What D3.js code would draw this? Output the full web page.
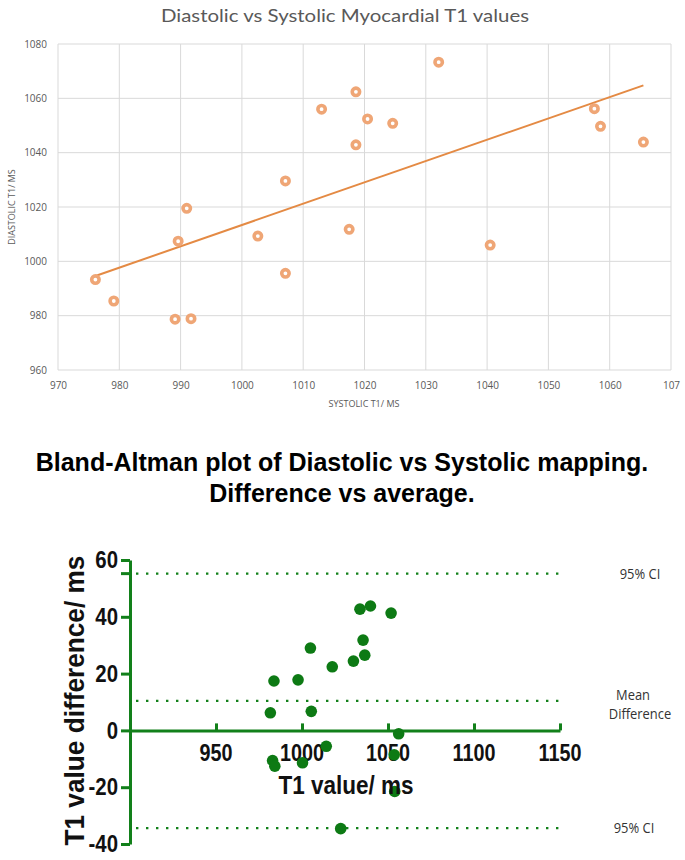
<!DOCTYPE html>
<html>
<head>
<meta charset="utf-8">
<script src="https://cdn.jsdelivr.net/npm/d3@7"></script>
<style>
  html, body { margin: 0; padding: 0; background: #fff; }
  svg { display: block; }
</style>
</head>
<body>
<svg id="chart" width="685" height="860"></svg>
<script>
// ---------- Top chart data: Diastolic vs Systolic myocardial T1 ----------
const systolicT1 = [991.0, 1032.1, 1018.6, 1013.0, 1020.5, 1024.6, 1018.6, 1007.1, 1017.5, 1057.5,
                    1058.5, 1065.5, 989.6, 976.1, 979.1, 989.1, 991.7, 1002.6, 1007.1, 1040.5];
const diastolicT1 = [1019.5, 1073.3, 1062.4, 1056.0, 1052.4, 1050.8, 1042.9, 1029.6, 1011.8, 1056.2,
                     1049.7, 1043.9, 1007.4, 993.3, 985.4, 978.7, 978.9, 1009.3, 995.6, 1006.0];
const topXTicks = [970, 980, 990, 1000, 1010, 1020, 1030, 1040, 1050, 1060, 1070];
const topXTickLabels = ["970", "980", "990", "1000", "1010", "1020", "1030", "1040", "1050", "1060", "107"];
const topYTicks = [960, 980, 1000, 1020, 1040, 1060, 1080];

// ---------- Bottom chart data: Bland-Altman ----------
const baAverage = [983.7, 997.7, 1004.9, 1017.6, 1029.9, 1036.5, 1035.5, 1033.7, 1039.8, 1051.8,
                   981.6, 1005.4, 1056.2, 1014.1, 982.9, 984.2, 1000.3, 1053.6, 1053.9, 1022.5];
const baDifference = [17.4, 17.8, 29.0, 22.4, 24.4, 26.5, 31.8, 42.7, 43.8, 41.3,
                      6.2, 6.7, -1.2, -5.6, -10.6, -12.6, -11.4, -8.6, -21.5, -34.6];
const baLines = [55.2, 10.4, -34.4];       // upper 95% CI, mean difference, lower 95% CI
const baXTicks = [950, 1000, 1050, 1100, 1150];
const baYTicks = [-40, -20, 0, 20, 40, 60];

const svg = d3.select("#chart");

// condense helper (emulates a narrow typeface)
function condense(sel, factor) {
  sel.each(function () {
    const w = this.getComputedTextLength();
    d3.select(this).attr("textLength", w * factor).attr("lengthAdjust", "spacingAndGlyphs");
  });
}

// =================== TOP CHART ===================
const tx = d3.scaleLinear().domain([970, 1070]).range([58, 671]);
const ty = d3.scaleLinear().domain([960, 1080]).range([370, 44]);
const gridColor = "#d9d9d9";
const textGray = "#595959";
const topFont = "'Open Sans', 'Noto Sans', sans-serif";

svg.append("text")
  .attr("x", 345).attr("y", 22)
  .attr("text-anchor", "middle")
  .attr("font-family", "Lato, 'Open Sans', sans-serif")
  .attr("font-size", 18)
  .attr("fill", textGray)
  .attr("textLength", 368).attr("lengthAdjust", "spacingAndGlyphs")
  .text("Diastolic vs Systolic Myocardial T1 values");

const topG = svg.append("g");
topG.selectAll(".vg").data(topXTicks).enter().append("line")
  .attr("x1", d => tx(d)).attr("x2", d => tx(d))
  .attr("y1", ty(960)).attr("y2", ty(1080))
  .attr("stroke", gridColor).attr("stroke-width", 1);
topG.selectAll(".hg").data(topYTicks).enter().append("line")
  .attr("x1", tx(970)).attr("x2", tx(1070))
  .attr("y1", d => ty(d)).attr("y2", d => ty(d))
  .attr("stroke", gridColor).attr("stroke-width", 1);

const topXAxis = d3.axisBottom(tx).tickValues(topXTicks)
  .tickFormat((d, i) => topXTickLabels[i]).tickSize(0).tickPadding(12);
const gx = topG.append("g").attr("transform", `translate(0,${ty(960)})`).call(topXAxis);
gx.select(".domain").remove();
gx.selectAll("text").attr("font-family", topFont).attr("font-size", 10).attr("fill", textGray);

const topYAxis = d3.axisLeft(ty).tickValues(topYTicks).tickSize(0).tickPadding(11).tickFormat(d => String(d));
const gy = topG.append("g").attr("transform", `translate(${tx(970)},0)`).call(topYAxis);
gy.select(".domain").remove();
gy.selectAll("text").attr("font-family", topFont).attr("font-size", 10).attr("fill", textGray);

svg.append("text")
  .attr("x", 364).attr("y", 407)
  .attr("text-anchor", "middle")
  .attr("font-family", topFont).attr("font-size", 9)
  .attr("fill", textGray)
  .text("SYSTOLIC T1/ MS");

svg.append("text")
  .attr("transform", `translate(15,${ty(1020)}) rotate(-90)`)
  .attr("text-anchor", "middle")
  .attr("font-family", topFont).attr("font-size", 9)
  .attr("fill", textGray)
  .text("DIASTOLIC T1/ MS");

// linear trendline (least squares)
const n = systolicT1.length;
const mx = d3.mean(systolicT1), my = d3.mean(diastolicT1);
let sxy = 0, sxx = 0;
for (let i = 0; i < n; i++) {
  sxy += (systolicT1[i] - mx) * (diastolicT1[i] - my);
  sxx += (systolicT1[i] - mx) ** 2;
}
const slope = sxy / sxx, icpt = my - slope * mx;
const xMin = d3.min(systolicT1), xMax = d3.max(systolicT1);
topG.append("line")
  .attr("x1", tx(xMin)).attr("y1", ty(icpt + slope * xMin))
  .attr("x2", tx(xMax)).attr("y2", ty(icpt + slope * xMax))
  .attr("stroke", "#E48A44").attr("stroke-width", 2);

topG.selectAll(".pt").data(d3.range(n)).enter().append("circle")
  .attr("cx", i => tx(systolicT1[i]))
  .attr("cy", i => ty(diastolicT1[i]))
  .attr("r", 3.7)
  .attr("fill", "#fff")
  .attr("stroke", "#EFA676")
  .attr("stroke-width", 3.6);

// =================== BOTTOM CHART ===================
const green = "#12801a";
const ptGreen = "#0d7a14";
const boldFont = "'Liberation Sans', Arial, sans-serif";
const bx = d3.scaleLinear().domain([900, 1150]).range([130, 560]);
const by = d3.scaleLinear().domain([-40, 60]).range([844, 560]);

svg.append("text")
  .attr("x", 342).attr("y", 471)
  .attr("text-anchor", "middle")
  .attr("font-family", boldFont)
  .attr("font-weight", "bold").attr("font-size", 25)
  .attr("fill", "#000")
  .text("Bland-Altman plot of Diastolic vs Systolic mapping.");
svg.append("text")
  .attr("x", 342).attr("y", 502)
  .attr("text-anchor", "middle")
  .attr("font-family", boldFont)
  .attr("font-weight", "bold").attr("font-size", 25)
  .attr("fill", "#000")
  .text("Difference vs average.");

const bG = svg.append("g");

bG.selectAll(".ref").data(baLines).enter().append("line")
  .attr("x1", bx(900) + 6).attr("x2", bx(1150) + 2)
  .attr("y1", d => by(d)).attr("y2", d => by(d))
  .attr("stroke", green).attr("stroke-width", 2.4)
  .attr("stroke-dasharray", "2.4 7.6");

bG.append("line")
  .attr("x1", bx(900) - 9).attr("x2", bx(900))
  .attr("y1", by(baLines[0])).attr("y2", by(baLines[0]))
  .attr("stroke", green).attr("stroke-width", 3);

const bYAxis = d3.axisLeft(by).tickValues(baYTicks).tickSize(9).tickPadding(3).tickSizeOuter(0)
  .tickFormat(d => String(d));
const byG = bG.append("g").attr("transform", `translate(${bx(900)},0)`).call(bYAxis);
byG.select(".domain").attr("stroke", green).attr("stroke-width", 3);
byG.selectAll(".tick line").attr("stroke", green).attr("stroke-width", 3);
byG.selectAll("text")
  .attr("font-family", boldFont).attr("font-weight", "bold")
  .attr("font-size", 24).attr("fill", "#111")
  .call(condense, 0.85);

const bXAxis = d3.axisTop(bx).tickValues(baXTicks).tickSize(7).tickSizeOuter(0).tickFormat("");
const bxG = bG.append("g").attr("transform", `translate(0,${by(0)})`).call(bXAxis);
bxG.select(".domain").attr("stroke", green).attr("stroke-width", 3);
bxG.selectAll(".tick line").attr("stroke", green).attr("stroke-width", 3);
bG.selectAll(".xlab").data(baXTicks).enter().append("text")
  .attr("x", d => bx(d)).attr("y", by(0) + 31)
  .attr("text-anchor", "middle")
  .attr("font-family", boldFont).attr("font-weight", "bold")
  .attr("font-size", 23).attr("fill", "#111")
  .text(d => d)
  .call(condense, 0.86);

svg.append("text")
  .attr("x", 346).attr("y", 794)
  .attr("text-anchor", "middle")
  .attr("font-family", boldFont).attr("font-weight", "bold")
  .attr("font-size", 25).attr("fill", "#111")
  .text("T1 value/ ms")
  .call(condense, 0.9);
svg.append("text")
  .attr("transform", `translate(84,${by(10.5)}) rotate(-90)`)
  .attr("text-anchor", "middle")
  .attr("font-family", boldFont).attr("font-weight", "bold")
  .attr("font-size", 28).attr("fill", "#111")
  .attr("textLength", 290).attr("lengthAdjust", "spacingAndGlyphs")
  .text("T1 value difference/ ms");

const labFont = "'Open Sans', sans-serif";
function sideLabel(x, y, t) {
  svg.append("text").attr("x", x).attr("y", y)
    .attr("text-anchor", "middle").attr("font-family", labFont).attr("font-size", 15)
    .attr("fill", "#333").text(t).call(condense, 0.86);
}
sideLabel(640, by(baLines[0]) + 5, "95% CI");
sideLabel(633, by(baLines[1]) - 1, "Mean");
sideLabel(640, by(baLines[1]) + 18, "Difference");
sideLabel(634, by(baLines[2]) + 5, "95% CI");

bG.selectAll(".bp").data(d3.range(baAverage.length)).enter().append("circle")
  .attr("cx", i => bx(baAverage[i]))
  .attr("cy", i => by(baDifference[i]))
  .attr("r", 5.8)
  .attr("fill", ptGreen);
</script>
</body>
</html>
